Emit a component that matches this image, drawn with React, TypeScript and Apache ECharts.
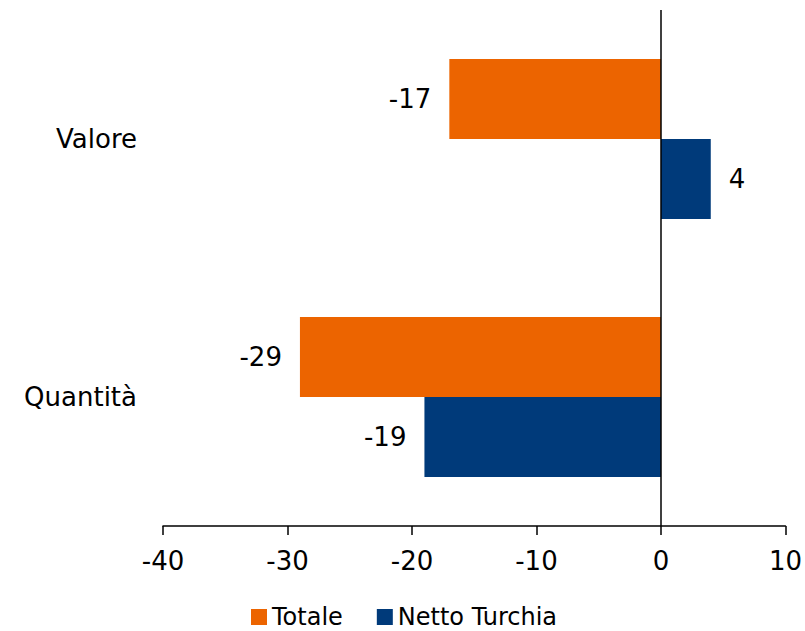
import React, { useEffect, useRef } from "react";
import * as echarts from "echarts";

// Categories (top to bottom) and the two series
const categories = ["Valore", "Quantità"];
const totale = [-17, -29];
const nettoTurchia = [4, -19];
const seriesNames = ["Totale", "Netto Turchia"];
const colors = ["#EC6400", "#003A7A"];

const FONT = "DejaVu Sans";
const FONT_SIZE = 26;

function barData(values: number[]) {
  return values.map((v) => ({
    value: v,
    label: { position: v < 0 ? "left" : "right" },
  }));
}

export default function App() {
  const ref = useRef<HTMLDivElement>(null);

  useEffect(() => {
    if (!ref.current) return;
    const chart = echarts.init(ref.current, null, { renderer: "svg" });
    const labelStyle = {
      show: true,
      distance: 18,
      color: "#000",
      fontFamily: FONT,
      fontSize: FONT_SIZE,
      formatter: (p: any) => String(p.value),
    };
    chart.setOption({
      animation: false,
      backgroundColor: "#fff",
      textStyle: { fontFamily: FONT },
      grid: { left: 163, right: 19, top: 10, bottom: 105, containLabel: false },
      legend: {
        left: 251,
        top: 605,
        padding: 0,
        icon: "rect",
        itemWidth: 16,
        itemHeight: 16,
        itemGap: 34,
        textStyle: {
          color: "#000",
          fontFamily: FONT,
          fontSize: 24,
          lineHeight: 24,
        },
        data: seriesNames,
      },
      xAxis: {
        type: "value",
        min: -40,
        max: 10,
        interval: 10,
        axisLine: { show: true, onZero: false, lineStyle: { color: "#000", width: 1.5 } },
        axisTick: { show: true, length: 9, lineStyle: { color: "#000", width: 1.5 } },
        axisLabel: { color: "#000", fontFamily: FONT, fontSize: FONT_SIZE, margin: 22 },
        splitLine: { show: false },
      },
      yAxis: {
        type: "category",
        inverse: true,
        data: categories,
        axisLine: { show: false, onZero: false },
        axisTick: { show: false },
        axisLabel: { color: "#000", fontFamily: FONT, fontSize: FONT_SIZE, margin: 26 },
      },
      series: [
        {
          name: seriesNames[0],
          type: "bar",
          data: barData(totale),
          itemStyle: { color: colors[0] },
          barGap: "0%",
          barCategoryGap: "38%",
          label: labelStyle,
          markLine: {
            silent: true,
            symbol: "none",
            label: { show: false },
            lineStyle: { color: "#000", width: 1.5, type: "solid" },
            data: [{ xAxis: 0 }],
          },
          z: 2,
        },
        {
          name: seriesNames[1],
          type: "bar",
          data: barData(nettoTurchia),
          itemStyle: { color: colors[1] },
          barGap: "0%",
          barCategoryGap: "38%",
          label: labelStyle,
          z: 2,
        },
      ],
    });
    return () => chart.dispose();
  }, []);

  return (
    <div
      ref={ref}
      style={{ position: "fixed", left: 0, top: 0, width: 805, height: 631 }}
    />
  );
}
